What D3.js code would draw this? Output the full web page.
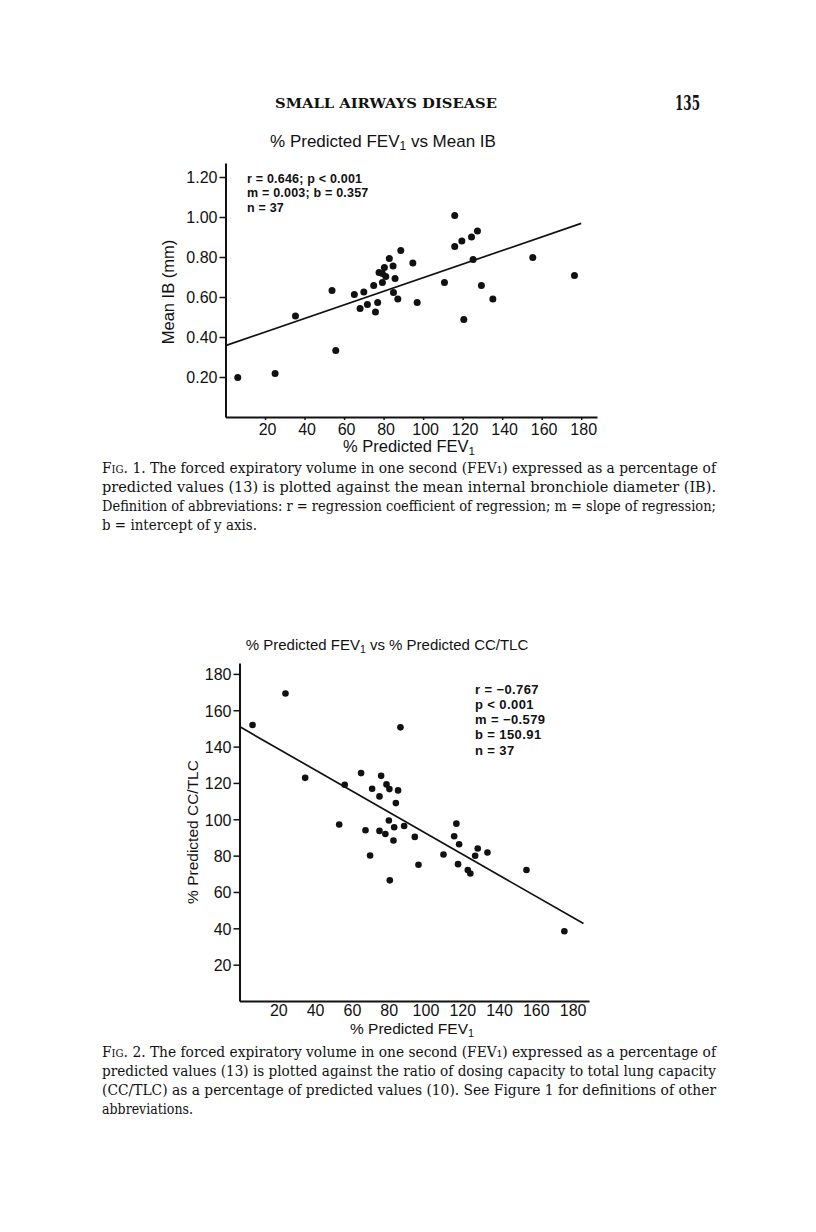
<!DOCTYPE html>
<html>
<head>
<meta charset="utf-8">
<script src="https://cdn.jsdelivr.net/npm/d3@7"></script>
<style>
  html, body { margin: 0; padding: 0; background: #ffffff; }
  svg { display: block; }
  .sans { font-family: "Liberation Sans", Arial, Helvetica, sans-serif; fill: #111; }
  .serif { font-family: "DejaVu Serif", "Liberation Serif", serif; fill: #111; }
</style>
</head>
<body>
<svg id="page" width="816" height="1232"></svg>
<script>
// ---------- Data: Figure 1 (% Predicted FEV1 vs Mean IB) ----------
const fev1X = [6.2, 25.1, 35.4, 53.9, 55.8, 65.2, 68.1, 70.0, 71.8, 75.0, 75.9, 77.0, 77.7, 79.4, 80.4, 79.4, 81.1, 82.9, 84.8, 85.8, 85.0, 87.2, 88.7, 94.8, 97.0, 110.8, 116.0, 116.0, 119.6, 120.6, 124.5, 125.3, 127.5, 129.5, 135.3, 155.5, 176.6];
const meanIB = [0.198, 0.218, 0.505, 0.632, 0.333, 0.612, 0.542, 0.625, 0.563, 0.658, 0.525, 0.572, 0.722, 0.718, 0.747, 0.672, 0.703, 0.793, 0.755, 0.692, 0.623, 0.590, 0.832, 0.770, 0.573, 0.672, 1.008, 0.852, 0.880, 0.487, 0.900, 0.787, 0.930, 0.657, 0.590, 0.797, 0.707];
const fit1X = [0, 180];
const fit1Y = [0.357, 0.968];
const xTicks1 = [20, 40, 60, 80, 100, 120, 140, 160, 180];
const yTicks1 = [0.20, 0.40, 0.60, 0.80, 1.00, 1.20];
const stats1 = ["r = 0.646; p < 0.001", "m = 0.003; b = 0.357", "n = 37"];

// ---------- Data: Figure 2 (% Predicted FEV1 vs % Predicted CC/TLC) ----------
const fev2X = [7.1, 25.0, 35.7, 57.2, 54.2, 66.1, 68.5, 71.0, 72.1, 76.1, 76.1, 77.0, 79.3, 79.9, 81.2, 81.5, 81.7, 83.7, 84.1, 85.0, 86.2, 87.5, 89.5, 95.3, 97.3, 110.9, 116.7, 117.9, 118.8, 119.4, 124.1, 125.5, 128.1, 129.5, 134.8, 156.0, 176.6];
const ccTlc = [151.9, 169.2, 122.8, 119.0, 97.1, 125.4, 94.0, 80.1, 116.8, 112.6, 93.6, 123.9, 91.9, 119.2, 99.3, 116.6, 66.4, 88.3, 95.6, 108.9, 115.9, 150.6, 96.3, 90.3, 75.0, 80.6, 90.7, 97.6, 75.3, 86.3, 72.1, 70.2, 79.9, 83.9, 81.7, 72.1, 38.4];
const fit2X = [0, 187];
const fit2Y = [151.0, 42.6];
const xTicks2 = [20, 40, 60, 80, 100, 120, 140, 160, 180];
const yTicks2 = [20, 40, 60, 80, 100, 120, 140, 160, 180];
const stats2 = ["r = \u22120.767", "p < 0.001", "m = \u22120.579", "b = 150.91", "n = 37"];

// ---------- Caption text ----------
const caption1 = [
  "The forced expiratory volume in one second (FEV\u2081) expressed as a percentage of",
  "predicted values (13) is plotted against the mean internal bronchiole diameter (IB).",
  "Definition of abbreviations: r = regression coefficient of regression; m = slope of regression;",
  "b = intercept of y axis."
];
const caption2 = [
  "The forced expiratory volume in one second (FEV\u2081) expressed as a percentage of",
  "predicted values (13) is plotted against the ratio of dosing capacity to total lung capacity",
  "(CC/TLC) as a percentage of predicted values (10). See Figure 1 for definitions of other",
  "abbreviations."
];

const svg = d3.select("#page");

// ---------- Running header ----------
svg.append("text").attr("class", "serif")
  .attr("x", 275).attr("y", 108)
  .attr("font-size", 13.5).attr("font-weight", "bold")
  .attr("textLength", 222).attr("lengthAdjust", "spacingAndGlyphs")
  .text("SMALL AIRWAYS DISEASE");
svg.append("text").attr("class", "serif")
  .attr("x", 700).attr("y", 110).attr("text-anchor", "end")
  .attr("font-size", 20).attr("font-weight", "bold")
  .attr("textLength", 25).attr("lengthAdjust", "spacingAndGlyphs")
  .text("135");

function fevTitle(g, x, y, size, rest, anchor) {
  const t = g.append("text").attr("class", "sans")
    .attr("x", x).attr("y", y).attr("font-size", size).attr("text-anchor", anchor);
  t.append("tspan").text("% Predicted FEV");
  t.append("tspan").attr("font-size", size * 0.7).attr("dy", 3).text("1");
  if (rest) t.append("tspan").attr("dy", -3).text(rest);
  return t;
}

function drawChart(opt) {
  const g = svg.append("g");
  const x = d3.scaleLinear().domain(opt.xDomain).range(opt.xRange);
  const y = d3.scaleLinear().domain(opt.yDomain).range(opt.yRange);

  const xAxis = d3.axisBottom(x).tickValues(opt.xTicks).tickSize(opt.xTickSize).tickPadding(4).tickSizeOuter(0);
  const gx = g.append("g").attr("transform", `translate(0,${y(0)})`).call(xAxis);
  const yAxis = d3.axisLeft(y).tickValues(opt.yTicks).tickSize(6).tickPadding(2).tickSizeOuter(0).tickFormat(opt.yFormat);
  const gy = g.append("g").attr("transform", `translate(${x(0)},0)`).call(yAxis);

  [gx, gy].forEach(a => {
    a.select(".domain").attr("stroke", "#111").attr("stroke-width", 2);
    a.selectAll(".tick line").attr("stroke", "#111").attr("stroke-width", 1.5);
    a.selectAll(".tick text").attr("class", "sans").attr("fill", "#111")
      .attr("font-family", '"Liberation Sans", Arial, sans-serif').attr("font-size", opt.tickFont);
  });
  gx.selectAll(".tick text").attr("dx", 2);
  gy.selectAll(".tick text").attr("dy", "0.36em");

  g.append("line")
    .attr("x1", x(opt.fitX[0])).attr("y1", y(opt.fitY[0]))
    .attr("x2", x(opt.fitX[1])).attr("y2", y(opt.fitY[1]))
    .attr("stroke", "#111").attr("stroke-width", 1.7);

  g.selectAll("circle.pt").data(opt.xs.map((v, i) => [v, opt.ys[i]]))
    .enter().append("circle").attr("class", "pt")
    .attr("cx", d => x(d[0])).attr("cy", d => y(d[1])).attr("r", opt.dotR)
    .attr("fill", "#111");

  opt.stats.forEach((s, i) => {
    g.append("text").attr("class", "sans")
      .attr("x", opt.statsX).attr("y", opt.statsY + i * opt.statsDy)
      .attr("font-size", opt.statsFont).attr("font-weight", "bold")
      .attr("letter-spacing", opt.statsSpacing)
      .text(s);
  });

  fevTitle(g, opt.titleX, opt.titleY, opt.titleFont, opt.titleRest, "middle");
  fevTitle(g, opt.xLabelX, opt.xLabelY, opt.labelFont, null, "middle");
  g.append("text").attr("class", "sans")
    .attr("transform", `translate(${opt.yLabelX},${opt.yLabelY}) rotate(-90)`)
    .attr("text-anchor", "middle").attr("font-size", opt.labelFont)
    .text(opt.yLabel);
}

drawChart({
  xDomain: [0, 188], xRange: [225.5, 597],
  yDomain: [0, 1.27], yRange: [417, 163],
  xTicks: xTicks1, yTicks: yTicks1, xTickSize: 3,
  yFormat: d3.format(".2f"), tickFont: 16, labelFont: 16.5, titleFont: 17, dotR: 3.5,
  xs: fev1X, ys: meanIB, fitX: fit1X, fitY: fit1Y,
  stats: stats1, statsX: 247, statsY: 182.5, statsDy: 14.5, statsFont: 12.5, statsSpacing: 0.2,
  titleX: 383, titleY: 147, titleRest: " vs Mean IB",
  xLabelX: 409, xLabelY: 452,
  yLabelX: 174, yLabelY: 292, yLabel: "Mean IB (mm)"
});

drawChart({
  xDomain: [0, 190], xRange: [239.5, 589],
  yDomain: [0, 186], yRange: [1001, 663],
  xTicks: xTicks2, yTicks: yTicks2, xTickSize: 0,
  yFormat: d3.format("d"), tickFont: 16, labelFont: 15.5, titleFont: 15, dotR: 3.3,
  xs: fev2X, ys: ccTlc, fitX: fit2X, fitY: fit2Y,
  stats: stats2, statsX: 475, statsY: 693.5, statsDy: 15.3, statsFont: 13, statsSpacing: 0.4,
  titleX: 387, titleY: 650, titleRest: " vs % Predicted CC/TLC",
  xLabelX: 412, xLabelY: 1034,
  yLabelX: 198, yLabelY: 832, yLabel: "% Predicted CC/TLC"
});

// ---------- Captions ----------
function caption(lines, label, top, lastLen) {
  lines.forEach((line, i) => {
    const last = i === lines.length - 1;
    const t = svg.append("text").attr("class", "serif")
      .attr("x", 102).attr("y", top + i * 19).attr("font-size", 15)
      .attr("fill", "#000")
      .attr("textLength", last ? lastLen : 614).attr("lengthAdjust", "spacingAndGlyphs");
    if (i === 0) {
      t.append("tspan").attr("font-variant", "small-caps").text(label + " ");
    }
    t.append("tspan").text(line);
  });
}
caption(caption1, "Fig. 1.", 473, 155);
caption(caption2, "Fig. 2.", 1057, 91);
</script>
</body>
</html>
